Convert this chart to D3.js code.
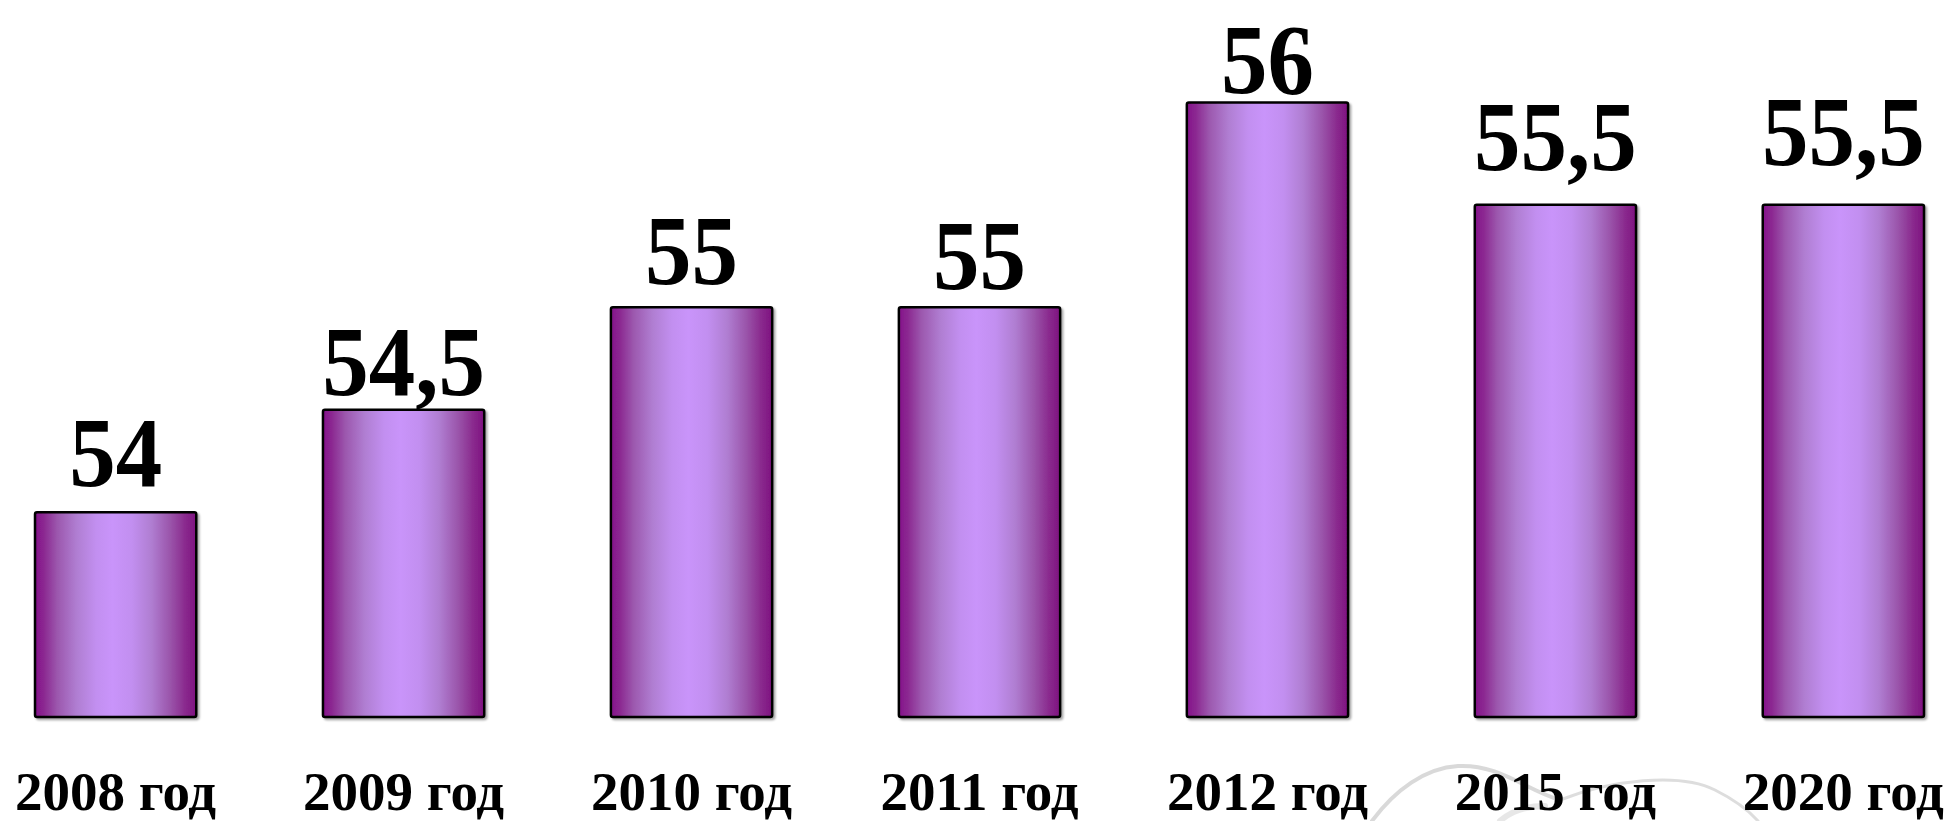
<!DOCTYPE html>
<html>
<head>
<meta charset="utf-8">
<script src="https://cdn.jsdelivr.net/npm/d3@7"></script>
<style>
  html, body { margin: 0; padding: 0; background: #ffffff; }
  svg { display: block; }
</style>
</head>
<body>
<script>
// ---- data ----
const categories = ["2008 год", "2009 год", "2010 год", "2011 год", "2012 год", "2015 год", "2020 год"];
const values = [54, 54.5, 55, 55, 56, 55.5, 55.5];
const valueLabels = ["54", "54,5", "55", "55", "56", "55,5", "55,5"];

// ---- layout ----
const W = 1949, H = 821;
const labelGap = [26, 15, 23, 18, 9, 35, 40]; // px between label baseline and bar top

const svg = d3.select("body").append("svg").attr("width", W).attr("height", H);

const x = d3.scaleBand().domain(categories).range([35, 1924]).paddingInner(0.44).paddingOuter(0);
const y = d3.scaleLinear().domain([53, 56.5]).range([717, 0]);

const defs = svg.append("defs");
const grad = defs.append("linearGradient").attr("id", "barGrad")
  .attr("x1", "0%").attr("x2", "100%").attr("y1", "0%").attr("y2", "0%");
[
  [0, "#84128a"], [0.06, "#8c2a92"], [0.14, "#9c58ae"], [0.26, "#b07ed2"],
  [0.38, "#c28ff0"], [0.48, "#c994fa"], [0.6, "#c28ff0"], [0.72, "#b07ed2"],
  [0.84, "#9a54aa"], [0.93, "#8a2a8e"], [1, "#7e1280"]
].forEach(([o, c]) => grad.append("stop").attr("offset", o).attr("stop-color", c));

const shadow = defs.append("filter").attr("id", "shadow").attr("x", "-10%").attr("y", "-10%").attr("width", "130%").attr("height", "130%");
shadow.append("feDropShadow").attr("dx", 2).attr("dy", 2).attr("stdDeviation", 1.2).attr("flood-color", "#000").attr("flood-opacity", 0.35);

// faint watermark swirl
const wm = svg.append("g").attr("fill", "none").attr("stroke", "#cfcfcf").attr("stroke-linecap", "round");
wm.append("path").attr("d", "M1372,821 C1395,790 1425,768 1458,766 C1500,764 1525,790 1560,800")
  .attr("stroke-width", 4).attr("opacity", 0.8);
wm.append("path").attr("d", "M1560,800 C1610,780 1680,772 1715,790 C1735,800 1750,812 1758,821")
  .attr("stroke-width", 3).attr("opacity", 0.7);
wm.append("path").attr("d", "M1500,821 C1510,812 1525,806 1545,806")
  .attr("stroke-width", 6).attr("opacity", 0.5);

// bars
svg.append("g").selectAll("rect").data(values).join("rect")
  .attr("x", (d, i) => x(categories[i]))
  .attr("y", d => y(d))
  .attr("width", x.bandwidth())
  .attr("height", d => y(53) - y(d))
  .attr("rx", 2)
  .attr("fill", "url(#barGrad)")
  .attr("stroke", "#000")
  .attr("stroke-width", 2.5)
  .attr("filter", "url(#shadow)");

// value labels
svg.append("g").selectAll("text").data(values).join("text")
  .attr("transform", (d, i) => `translate(${x(categories[i]) + x.bandwidth() / 2},${y(d) - labelGap[i]}) scale(0.93,1)`)
  .attr("text-anchor", "middle")
  .attr("font-family", "'Liberation Serif', 'Times New Roman', serif")
  .attr("font-weight", "bold")
  .attr("font-size", 100)
  .attr("fill", "#000")
  .text((d, i) => valueLabels[i]);

// category labels
const xAxis = d3.axisBottom(x).tickSize(0).tickPadding(0);
const ax = svg.append("g").attr("transform", "translate(0,810)").call(xAxis);
ax.select(".domain").remove();
ax.selectAll("text")
  .attr("dy", 0)
  .attr("y", 0)
  .attr("font-family", "'Liberation Serif', 'Times New Roman', serif")
  .attr("font-weight", "bold")
  .attr("font-size", 55)
  .attr("fill", "#000");
</script>
</body>
</html>
